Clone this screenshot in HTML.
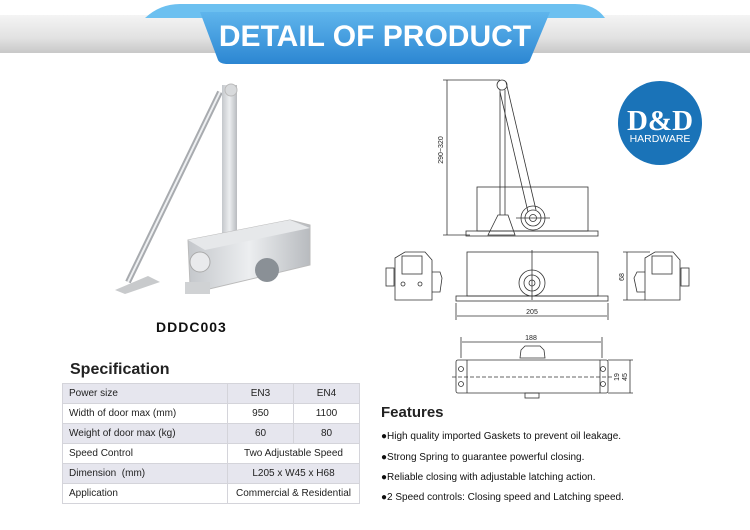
<!DOCTYPE html>
<html><head><meta charset="utf-8"><style>
body{margin:0;width:750px;height:530px;background:#fff;position:relative;overflow:hidden;font-family:"Liberation Sans",Arial,sans-serif}
.a{position:absolute}
table{border-collapse:collapse;font-size:10px;color:#222}
td{border:1px solid #d4d4da;height:19px;padding:0 6px}
tr.s td{background:#e6e6ee}
.c{text-align:center}
.f{font-size:10px;color:#111;left:381px}
</style></head><body>
<svg class="a" style="left:0;top:0" width="750" height="530">
<defs>
<linearGradient id="g" x1="0" y1="0" x2="0" y2="1"><stop offset="0" stop-color="#f4f4f4"/><stop offset=".6" stop-color="#e2e2e2"/><stop offset="1" stop-color="#c8c8c8"/></linearGradient>
<linearGradient id="b" x1="0" y1="0" x2="0" y2="1"><stop offset="0" stop-color="#5fb5ec"/><stop offset="1" stop-color="#2c86d2"/></linearGradient>
<linearGradient id="m" x1="0" y1="0" x2="1" y2="0"><stop offset="0" stop-color="#c4c7cb"/><stop offset=".5" stop-color="#eceef0"/><stop offset="1" stop-color="#b8bbbf"/></linearGradient>
</defs>
<rect x="0" y="15" width="750" height="38" fill="url(#g)"/>
<path d="M145 18 Q160 4 180 4 L575 4 Q595 4 605 18 Z" fill="#6cc0f0"/>
<path d="M200 12 L550 12 L530 60 Q528 64 520 64 L228 64 Q220 64 218 60 Z" fill="url(#b)"/>
<text x="375" y="46" text-anchor="middle" fill="#fff" font-size="30" font-weight="bold" font-family="Liberation Sans">DETAIL OF PRODUCT</text>
<!-- product photo -->
<g>
<polygon points="115,290 148,276 160,282 125,294" fill="#c8cacc"/>
<line x1="128" y1="282" x2="220" y2="92" stroke="#a8abaf" stroke-width="6"/>
<line x1="128" y1="282" x2="220" y2="92" stroke="#eef0f2" stroke-width="2"/>
<rect x="222" y="85" width="15" height="160" fill="url(#m)"/>
<circle cx="231" cy="90" r="6" fill="#d8dadc" stroke="#bbb"/>
<polygon points="188,240 290,220 310,225 310,265 205,290 190,285" fill="url(#m)" stroke="#bbb"/>
<polygon points="188,240 290,220 310,228 205,250" fill="#e6e8ea"/>
<rect x="185" y="282" width="25" height="12" fill="#d0d2d4"/>
<circle cx="200" cy="262" r="10" fill="#e9eaec" stroke="#aaa"/>
<circle cx="267" cy="270" r="12" fill="#8a9096"/>
</g>
<!-- logo -->
<circle cx="660" cy="123" r="42" fill="#1a73b8"/>
<text x="660" y="130" text-anchor="middle" fill="#fff" font-size="29" font-family="Liberation Serif" font-weight="bold">D&amp;D</text>
<text x="660" y="142" text-anchor="middle" fill="#fff" font-size="10.5">HARDWARE</text>
<!-- drawings -->
<g stroke="#333" stroke-width="0.8" fill="none">
<line x1="447" y1="80" x2="447" y2="235"/><line x1="443" y1="80" x2="500" y2="80"/><line x1="443" y1="235" x2="470" y2="235"/>
<rect x="477" y="187" width="111" height="44"/>
<rect x="466" y="231" width="132" height="5"/>
<circle cx="502" cy="85" r="5"/>
<line x1="500" y1="90" x2="500" y2="215"/><line x1="505" y1="90" x2="505" y2="215"/>
<line x1="506" y1="82" x2="536" y2="210"/><line x1="500" y1="92" x2="528" y2="212"/>
<polygon points="488,235 498,215 508,215 515,235"/>
<circle cx="533" cy="218" r="12"/><circle cx="533" cy="218" r="8"/><circle cx="533" cy="218" r="3.5"/>
<line x1="516" y1="218" x2="550" y2="218"/>
<path d="M395 300 L395 258 L405 252 L425 252 L432 260 L432 300 Z"/>
<rect x="402" y="256" width="20" height="18"/>
<rect x="386" y="268" width="8" height="18"/><path d="M432 272 L440 272 L442 278 L440 292 L432 292"/>
<circle cx="403" cy="284" r="2"/><circle cx="420" cy="284" r="2"/>
<rect x="467" y="252" width="131" height="44"/>
<rect x="456" y="296" width="152" height="5"/>
<circle cx="532" cy="283" r="13"/><circle cx="532" cy="283" r="8"/><circle cx="532" cy="283" r="3"/>
<line x1="532" y1="250" x2="532" y2="300"/>
<line x1="456" y1="303" x2="456" y2="320"/><line x1="608" y1="303" x2="608" y2="320"/><line x1="457" y1="316" x2="607" y2="316"/>
<path d="M645 300 L645 258 L655 252 L673 252 L680 260 L680 300 Z"/>
<rect x="652" y="256" width="20" height="18"/>
<rect x="681" y="268" width="8" height="18"/><path d="M645 272 L637 272 L634 278 L637 292 L645 292"/>
<line x1="627" y1="252" x2="627" y2="300"/><line x1="623" y1="252" x2="650" y2="252"/><line x1="623" y1="300" x2="645" y2="300"/>
<rect x="456" y="360" width="152" height="33" rx="2"/>
<line x1="467" y1="360" x2="467" y2="393"/><line x1="600" y1="360" x2="600" y2="393"/>
<path d="M520 358 L521 350 L525 346 L540 346 L544 350 L545 358 Z"/>
<rect x="525" y="393" width="14" height="5"/>
<circle cx="461" cy="369" r="2.5"/><circle cx="461" cy="384" r="2.5"/><circle cx="603" cy="369" r="2.5"/><circle cx="603" cy="384" r="2.5"/>
<line x1="462" y1="342" x2="601" y2="342"/><line x1="461" y1="337" x2="461" y2="358"/><line x1="602" y1="337" x2="602" y2="358"/>
<line x1="630" y1="360" x2="630" y2="393"/><line x1="608" y1="360" x2="633" y2="360"/><line x1="608" y1="393" x2="633" y2="393"/>
<line x1="452" y1="377" x2="612" y2="377" stroke-dasharray="4,2"/>
</g>
<g font-size="7" fill="#222" font-family="Liberation Sans">
<text x="443" y="150" transform="rotate(-90 443 150)" text-anchor="middle">290~320</text>
<text x="532" y="314" text-anchor="middle">205</text>
<text x="624" y="277" transform="rotate(-90 624 277)" text-anchor="middle">68</text>
<text x="531" y="340" text-anchor="middle">188</text>
<text x="619" y="377" transform="rotate(-90 619 377)" text-anchor="middle">19</text>
<text x="627" y="377" transform="rotate(-90 627 377)" text-anchor="middle">45</text>
</g>
</svg>
<div class="a" style="left:156px;top:319px;font-size:14px;font-weight:bold;letter-spacing:1px;color:#111">DDDC003</div>
<div class="a" style="left:70px;top:361px;font-size:16px;font-weight:bold;color:#222">Specification</div>
<table class="a" style="left:62px;top:383px;width:298px">
<tr class="s"><td style="width:152px">Power size</td><td class="c" style="width:53px">EN3</td><td class="c">EN4</td></tr>
<tr><td>Width of door max (mm)</td><td class="c">950</td><td class="c">1100</td></tr>
<tr class="s"><td>Weight of door max (kg)</td><td class="c">60</td><td class="c">80</td></tr>
<tr><td>Speed Control</td><td class="c" colspan="2">Two Adjustable Speed</td></tr>
<tr class="s"><td>Dimension &nbsp;(mm)</td><td class="c" colspan="2">L205 x W45 x H68</td></tr>
<tr><td>Application</td><td class="c" colspan="2" style="padding:0">Commercial &amp; Residential</td></tr>
</table>
<div class="a" style="left:381px;top:404px;font-size:15px;font-weight:bold;color:#222">Features</div>
<div class="a f" style="top:431px">●High quality imported Gaskets to prevent oil leakage.</div>
<div class="a f" style="top:452px">●Strong Spring to guarantee powerful closing.</div>
<div class="a f" style="top:472px">●Reliable closing with adjustable latching action.</div>
<div class="a f" style="top:492px">●2 Speed controls: Closing speed and Latching speed.</div>
</body></html>
